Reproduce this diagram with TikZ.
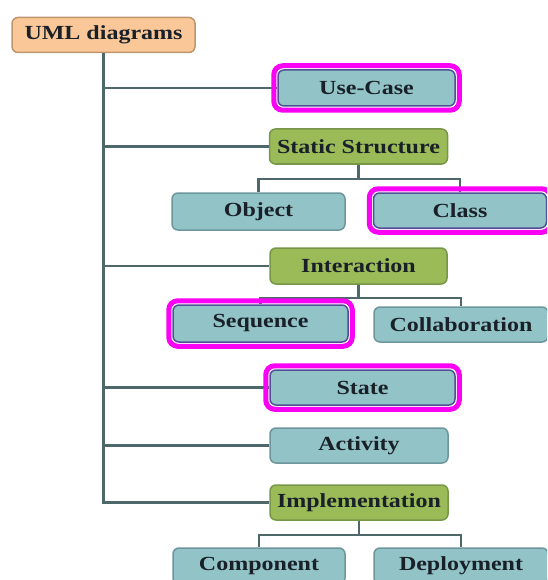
\documentclass[tikz,border=0pt]{standalone}
\usepackage{fontspec}
\setmainfont{Liberation Serif}[FakeStretch=1.2]
\definecolor{tfill}{RGB}{146,196,199}
\definecolor{tdraw}{RGB}{108,150,156}
\definecolor{gfill}{RGB}{155,187,89}
\definecolor{gdraw}{RGB}{120,150,72}
\definecolor{ofill}{RGB}{250,200,152}
\definecolor{odraw}{RGB}{190,150,110}
\definecolor{txtc}{RGB}{26,32,40}
\definecolor{linec}{RGB}{78,104,106}
\definecolor{hlc}{RGB}{250,0,245}
\definecolor{hldraw}{RGB}{80,80,150}
\tikzset{
  basebox/.style={rounded corners=6pt, line width=1.5pt, inner sep=0pt, anchor=center,
    text=txtc, font=\fontsize{20}{24}\selectfont\bfseries},
  tbox/.style={basebox, fill=tfill, draw=tdraw},
  gbox/.style={basebox, fill=gfill, draw=gdraw},
  obox/.style={basebox, fill=ofill, draw=odraw},
  hbox/.style={basebox, fill=tfill, draw=hldraw},
  conn/.style={draw=linec, line width=2.5pt},
  hlframe/.style={draw=hlc, line width=5pt, rounded corners=9pt}
}
\begin{document}
\begin{tikzpicture}[x=1pt,y=-1pt]
\useasboundingbox (0,0) rectangle (547,580);
\clip (0,0) rectangle (547,580);
% nodes
\node[obox, minimum width=183pt, minimum height=35pt] (uml) at (103.5,35) {UML diagrams};
\node[hbox, minimum width=177pt, minimum height=36pt] (uc) at (366.5,88) {Use-Case};
\node[gbox, minimum width=178pt, minimum height=35pt] (ss) at (358.5,146.5) {Static Structure};
\node[tbox, minimum width=173pt, minimum height=37pt] (obj) at (258.5,211.5) {Object};
\node[hbox, minimum width=173pt, minimum height=35pt] (cls) at (460,210.5) {Class};
\node[gbox, minimum width=177pt, minimum height=36pt] (int) at (358.5,266) {Interaction};
\node[hbox, minimum width=175pt, minimum height=37pt] (seq) at (260.5,323.5) {Sequence};
\node[tbox, minimum width=174pt, minimum height=35pt] (col) at (461,324.5) {Collaboration};
\node[hbox, minimum width=185pt, minimum height=35pt] (st) at (362.5,387.5) {State};
\node[tbox, minimum width=178pt, minimum height=35pt] (act) at (359,445.5) {Activity};
\node[gbox, minimum width=178pt, minimum height=35pt] (imp) at (359,502.5) {Implementation};
\node[tbox, minimum width=172pt, minimum height=36pt] (comp) at (259,566) {Component};
\node[tbox, minimum width=174pt, minimum height=36pt] (dep) at (461,566) {Deployment};
% trunk and branches
\draw[conn] (uml.south) |- (imp.west);
\draw[conn] (uml.south) |- (uc.west);
\draw[conn] (uml.south) |- (ss.west);
\draw[conn] (uml.south) |- (int.west);
\draw[conn] (uml.south) |- (st.west);
\draw[conn] (uml.south) |- (act.west);
% sub-trees
\draw[conn] (ss.south) -- ++(0,14) coordinate (ssb);
\draw[conn] (ssb) -| (obj.north);
\draw[conn] (ssb) -| (cls.north);
\draw[conn] (int.south) -- ++(0,13) coordinate (intb);
\draw[conn] (intb) -| (seq.north);
\draw[conn] (intb) -| (col.north);
\draw[conn] (imp.south) -- ++(0,14) coordinate (impb);
\draw[conn] (impb) -| (comp.north);
\draw[conn] (impb) -| (dep.north);
% highlights
\draw[hlframe] ([shift={(-3.5,-3.5)}]uc.north west) rectangle ([shift={(3.5,3.5)}]uc.south east);
\draw[hlframe] ([shift={(-3.5,-3.5)}]cls.north west) rectangle ([shift={(3.5,3.5)}]cls.south east);
\draw[hlframe] ([shift={(-3.5,-3.5)}]seq.north west) rectangle ([shift={(3.5,3.5)}]seq.south east);
\draw[hlframe] ([shift={(-3.5,-3.5)}]st.north west) rectangle ([shift={(3.5,3.5)}]st.south east);
\end{tikzpicture}
\end{document}
